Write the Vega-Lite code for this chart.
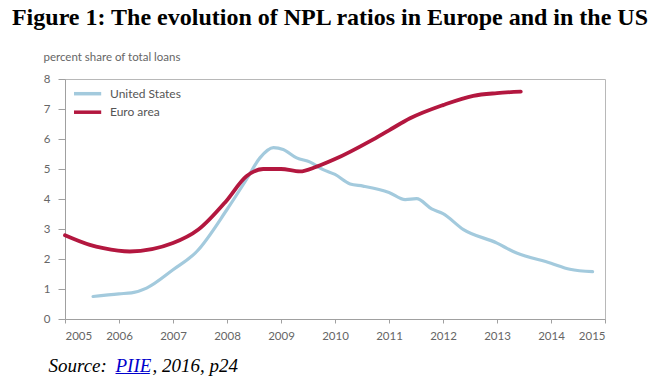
{
  "$schema": "https://vega.github.io/schema/vega-lite/v6.json",
  "width": 540,
  "height": 240,
  "autosize": {"type": "none"},
  "padding": {"left": 65, "top": 79, "right": 63, "bottom": 65},
  "background": "white",
  "title": {
    "text": "Figure 1: The evolution of NPL ratios in Europe and in the US",
    "font": "Liberation Serif",
    "fontSize": 24,
    "fontWeight": "bold",
    "color": "#000000",
    "anchor": "middle",
    "frame": "group",
    "dx": -5,
    "dy": -15,
    "offset": 6
  },
  "config": {
    "view": {"stroke": "#b8b8b8", "strokeWidth": 1},
    "axis": {
      "grid": false,
      "domainColor": "#a0a0a0",
      "tickColor": "#a0a0a0",
      "labelColor": "#666666",
      "labelFont": "Lato",
      "labelFontSize": 11.5
    },
    "legend": {
      "orient": "none",
      "legendX": 12.6,
      "legendY": 4.7,
      "padding": 0,
      "labelFont": "Lato",
      "labelFontSize": 12,
      "labelColor": "#555555",
      "symbolType": "M-1.7,0H1.7",
      "symbolSize": 256,
      "symbolStrokeWidth": 3.5,
      "labelOffset": 12.4,
      "rowPadding": 1.5,
      "title": null
    }
  },
  "datasets": {
    "npl": [
      {"series": "United States", "year": 2005.52, "value": 0.75},
      {"series": "United States", "year": 2006.0, "value": 0.84},
      {"series": "United States", "year": 2006.23, "value": 0.87},
      {"series": "United States", "year": 2006.51, "value": 1.03},
      {"series": "United States", "year": 2007.0, "value": 1.64},
      {"series": "United States", "year": 2007.44, "value": 2.25},
      {"series": "United States", "year": 2008.0, "value": 3.65},
      {"series": "United States", "year": 2008.36, "value": 4.65},
      {"series": "United States", "year": 2008.61, "value": 5.37},
      {"series": "United States", "year": 2008.86, "value": 5.71},
      {"series": "United States", "year": 2009.04, "value": 5.65},
      {"series": "United States", "year": 2009.29, "value": 5.37},
      {"series": "United States", "year": 2009.54, "value": 5.23},
      {"series": "United States", "year": 2009.78, "value": 4.98},
      {"series": "United States", "year": 2010.0, "value": 4.82},
      {"series": "United States", "year": 2010.28, "value": 4.5},
      {"series": "United States", "year": 2010.52, "value": 4.43},
      {"series": "United States", "year": 2011.0, "value": 4.22},
      {"series": "United States", "year": 2011.3, "value": 3.98},
      {"series": "United States", "year": 2011.51, "value": 4.01},
      {"series": "United States", "year": 2011.79, "value": 3.67},
      {"series": "United States", "year": 2012.0, "value": 3.51},
      {"series": "United States", "year": 2012.38, "value": 2.98},
      {"series": "United States", "year": 2013.0, "value": 2.53},
      {"series": "United States", "year": 2013.3, "value": 2.25},
      {"series": "United States", "year": 2014.0, "value": 1.86},
      {"series": "United States", "year": 2014.35, "value": 1.66},
      {"series": "United States", "year": 2014.77, "value": 1.58},
      {"series": "Euro area", "year": 2005.0, "value": 2.79},
      {"series": "Euro area", "year": 2005.46, "value": 2.47},
      {"series": "Euro area", "year": 2005.71, "value": 2.36},
      {"series": "Euro area", "year": 2006.2, "value": 2.25},
      {"series": "Euro area", "year": 2007.0, "value": 2.53},
      {"series": "Euro area", "year": 2007.47, "value": 2.98},
      {"series": "Euro area", "year": 2007.98, "value": 3.92},
      {"series": "Euro area", "year": 2008.36, "value": 4.76},
      {"series": "Euro area", "year": 2008.67, "value": 5.0},
      {"series": "Euro area", "year": 2009.0, "value": 5.0},
      {"series": "Euro area", "year": 2009.35, "value": 4.92},
      {"series": "Euro area", "year": 2009.66, "value": 5.08},
      {"series": "Euro area", "year": 2010.0, "value": 5.33},
      {"series": "Euro area", "year": 2010.65, "value": 5.93},
      {"series": "Euro area", "year": 2011.0, "value": 6.29},
      {"series": "Euro area", "year": 2011.39, "value": 6.69},
      {"series": "Euro area", "year": 2012.0, "value": 7.13},
      {"series": "Euro area", "year": 2012.56, "value": 7.44},
      {"series": "Euro area", "year": 2013.0, "value": 7.53},
      {"series": "Euro area", "year": 2013.44, "value": 7.58}
    ]
  },
  "data": {"name": "npl"},
  "resolve": {"axis": {"x": "independent", "y": "independent"}},
  "layer": [
    {
      "transform": [{"filter": "datum.series === 'United States'"}],
      "mark": {"type": "line", "interpolate": "monotone", "strokeCap": "round", "strokeWidth": 3.2},
      "encoding": {
        "x": {
          "field": "year", "type": "quantitative",
          "scale": {"domain": [2005, 2015], "nice": false, "zero": false},
          "axis": {
            "orient": "bottom",
            "values": [2005, 2006, 2007, 2008, 2009, 2010, 2011, 2012, 2013, 2014, 2015],
            "format": "d",
            "tickSize": 4,
            "labelPadding": 7,
            "title": ", 2016, p24",
            "titleX": 87,
            "titleY": 52.7,
            "titleAlign": "left",
            "titleAnchor": null,
            "titleBaseline": "alphabetic",
            "titleFont": "Liberation Serif",
            "titleFontStyle": "italic",
            "titleFontWeight": "normal",
            "titleFontSize": 19,
            "titleColor": "#000000"
          }
        },
        "y": {
          "field": "value", "type": "quantitative",
          "scale": {"domain": [0, 8], "nice": false},
          "axis": {
            "orient": "left",
            "values": [0, 1, 2, 3, 4, 5, 6, 7, 8],
            "tickSize": 7,
            "labelPadding": 8,
            "title": "percent share of total loans",
            "titleAngle": 0,
            "titleX": -22,
            "titleY": -19,
            "titleAlign": "left",
            "titleAnchor": null,
            "titleBaseline": "alphabetic",
            "titleFont": "Lato",
            "titleFontSize": 11.5,
            "titleFontWeight": "normal",
            "titleColor": "#666666"
          }
        },
        "color": {
          "field": "series", "type": "nominal",
          "scale": {"domain": ["United States", "Euro area"], "range": ["#a3cadd", "#b3173f"]}
        }
      }
    },
    {
      "transform": [{"filter": "datum.series === 'Euro area'"}],
      "mark": {"type": "line", "interpolate": "monotone", "strokeCap": "round", "strokeWidth": 3.8},
      "encoding": {
        "x": {
          "field": "year", "type": "quantitative",
          "axis": {
            "orient": "bottom",
            "labels": false, "ticks": false, "domain": false,
            "title": "P̲I̲I̲E̲",
            "titleX": 50,
            "titleY": 52.7,
            "titleAlign": "left",
            "titleAnchor": null,
            "titleBaseline": "alphabetic",
            "titleFont": "Liberation Serif",
            "titleFontStyle": "italic",
            "titleFontWeight": "normal",
            "titleFontSize": 19,
            "titleColor": "#0000cc"
          }
        },
        "y": {
          "field": "value", "type": "quantitative",
          "axis": {
            "orient": "left",
            "labels": false, "ticks": false, "domain": false,
            "title": "Source:",
            "titleAngle": 0,
            "titleX": -17,
            "titleY": 292.7,
            "titleAlign": "left",
            "titleAnchor": null,
            "titleBaseline": "alphabetic",
            "titleFont": "Liberation Serif",
            "titleFontStyle": "italic",
            "titleFontWeight": "normal",
            "titleFontSize": 19,
            "titleColor": "#000000"
          }
        },
        "color": {"field": "series", "type": "nominal"}
      }
    }
  ]
}
